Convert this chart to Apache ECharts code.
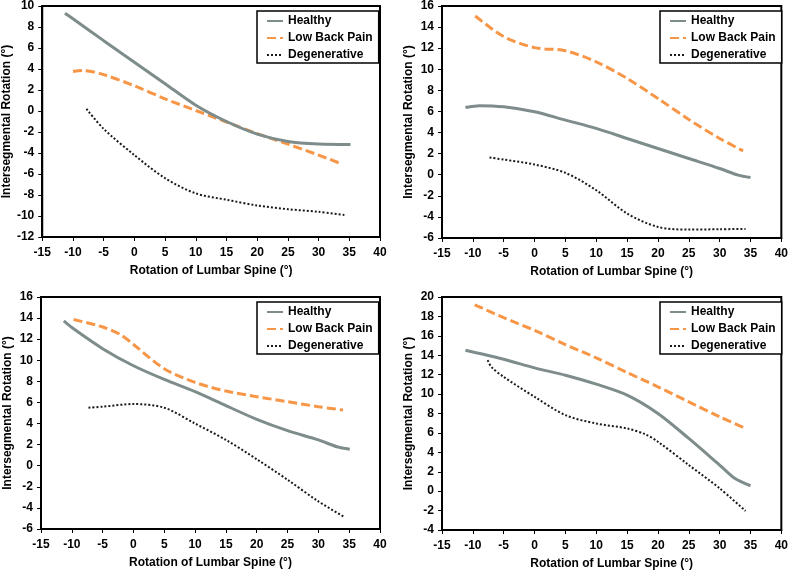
<!DOCTYPE html>
<html><head><meta charset="utf-8">
<script src="https://cdn.jsdelivr.net/npm/echarts@6/dist/echarts.min.js"></script>
<style>html,body{margin:0;padding:0;background:#fff}#c{width:791px;height:573px}</style>
</head><body><div id="c"></div>
<script>
// Series names
const seriesNames = ['Healthy', 'Low Back Pain', 'Degenerative'];
const xAxisTitle = 'Rotation of Lumbar Spine (°)';
const yAxisTitle = 'Intersegmental Rotation (°)';

// Panel 1 (top-left)
const p1Healthy = [[-11.3,9.3],[-10,8.78],[-5,6.7],[0,4.65],[5,2.6],[10,0.55],[15,-1.0],[20,-2.2],[25,-2.9],[30,-3.15],[35.2,-3.2]];
const p1LBP = [[-10,3.77],[-8.4,3.85],[-5,3.46],[0,2.4],[5,1.16],[10,0.05],[15,-1.05],[20,-2.15],[25,-3.15],[30,-4.2],[33.8,-5.05]];
const p1Deg = [[-7.8,0.2],[-5,-1.7],[0,-4.2],[5,-6.4],[10,-7.85],[15,-8.45],[20,-9.0],[25,-9.35],[30,-9.6],[34.2,-9.9]];

// Panel 2 (top-right)
const p2Healthy = [[-11.2,6.38],[-8.9,6.55],[-5,6.44],[0,5.97],[5,5.18],[10,4.39],[15,3.44],[20,2.49],[25,1.54],[30,0.59],[33,-0.04],[35,-0.27]];
const p2LBP = [[-9.6,15.05],[-5,13.1],[0,12.05],[5,11.76],[10,10.7],[15,9.13],[20,7.23],[25,5.24],[30,3.44],[33.8,2.27]];
const p2Deg = [[-7.3,1.63],[-5,1.44],[0,0.97],[5,0.18],[10,-1.47],[15,-3.68],[20,-4.95],[25,-5.2],[30,-5.17],[34.2,-5.14]];

// Panel 3 (bottom-left)
const p3Healthy = [[-11.3,13.73],[-10,13.1],[-5,11.1],[0,9.48],[5,8.18],[10,7.02],[15,5.7],[20,4.4],[25,3.33],[30,2.45],[33,1.8],[35.1,1.57]];
const p3LBP = [[-9.7,13.86],[-5,13.16],[-2,12.4],[0,11.5],[5,9.2],[10,7.9],[15,7.08],[20,6.55],[25,6.07],[30,5.6],[34,5.28]];
const p3Deg = [[-7.3,5.5],[-5,5.6],[0,5.85],[5,5.5],[10,4.0],[15,2.45],[20,0.62],[25,-1.33],[30,-3.38],[34.2,-4.86]];

// Panel 4 (bottom-right)
const p4Healthy = [[-11.2,14.51],[-10,14.34],[-5,13.59],[0,12.7],[5,11.94],[10,11.02],[15,9.89],[20,8.0],[25,5.43],[30,2.69],[32.5,1.3],[35,0.56]];
const p4LBP = [[-9.7,19.2],[-5,17.87],[0,16.57],[5,15.1],[10,13.73],[15,12.22],[20,10.74],[25,9.2],[30,7.66],[34,6.53]];
const p4Deg = [[-7.6,13.49],[-7,12.8],[-5,11.77],[0,9.72],[5,7.83],[10,6.97],[15,6.46],[18,5.84],[20,5.09],[25,2.69],[30,0.29],[34.2,-2.04]];

// Axis ranges
const xRange = {min: -15, max: 40, interval: 5};
const yRanges = [
  {min: -12, max: 10, interval: 2},
  {min: -6, max: 16, interval: 2},
  {min: -6, max: 16, interval: 2},
  {min: -4, max: 20, interval: 2}
];

const panels = [
  [p1Healthy, p1LBP, p1Deg],
  [p2Healthy, p2LBP, p2Deg],
  [p3Healthy, p3LBP, p3Deg],
  [p4Healthy, p4LBP, p4Deg]
];

const FONT = '"Liberation Sans", Arial, sans-serif';
const grids = [
  {left: 41, right: 411, top: 5, bottom: 336},
  {left: 442, right: 8, top: 6, bottom: 335},
  {left: 41, right: 411, top: 297, bottom: 44},
  {left: 442, right: 8, top: 297, bottom: 43}
];
const legendPos = [
  {left: 257, top: 11},
  {left: 660, top: 11},
  {left: 257, top: 302},
  {left: 660, top: 302}
];
const styles = [
  {color: '#7e8c8c', width: 3, type: 'solid'},
  {color: '#f79646', width: 3, type: [9, 4]},
  {color: '#1a1a1a', width: 2, type: [2, 2]}
];

const labelStyle = {color: '#000', fontFamily: FONT, fontWeight: 'bold', fontSize: 12};

const option = {
  animation: false,
  backgroundColor: '#fff',
  grid: grids.map(g => Object.assign({show: true, borderColor: '#000', borderWidth: 2, containLabel: false}, g)),
  xAxis: grids.map((g, i) => Object.assign({
    type: 'value', gridIndex: i,
    name: xAxisTitle, nameLocation: 'middle', nameGap: 28,
    nameTextStyle: labelStyle,
    axisLine: {show: true, onZero: false, lineStyle: {color: '#000', width: 2}},
    axisTick: {show: true, inside: false, length: 4, lineStyle: {color: '#000', width: 1}},
    axisLabel: Object.assign({margin: 10}, labelStyle),
    splitLine: {show: false}
  }, xRange)),
  yAxis: grids.map((g, i) => Object.assign({
    type: 'value', gridIndex: i,
    name: yAxisTitle, nameLocation: 'middle', nameGap: 27,
    nameTextStyle: labelStyle,
    axisLine: {show: true, onZero: false, lineStyle: {color: '#000', width: 2}},
    axisTick: {show: true, inside: false, length: 4, lineStyle: {color: '#000', width: 1}},
    axisLabel: Object.assign({margin: 8}, labelStyle),
    splitLine: {show: false}
  }, yRanges[i])),
  legend: legendPos.map(p => Object.assign({
    orient: 'vertical',
    data: seriesNames,
    itemWidth: 16, itemHeight: 12, itemGap: 5,
    padding: [4, 6, 2, 9],
    borderColor: '#000', borderWidth: 1.5,
    backgroundColor: '#fff',
    selectedMode: false,
    itemStyle: {opacity: 0},
    textStyle: labelStyle
  }, p)),
  series: []
};

panels.forEach((sets, i) => {
  sets.forEach((d, k) => {
    option.series.push({
      type: 'line', name: seriesNames[k],
      xAxisIndex: i, yAxisIndex: i,
      data: d, smooth: 0.3, symbol: 'none',
      lineStyle: styles[k], itemStyle: {color: styles[k].color},
      z: 3 - k
    });
  });
});

const chart = echarts.init(document.getElementById('c'), null, {renderer: 'canvas'});
chart.setOption(option);
</script></body></html>
